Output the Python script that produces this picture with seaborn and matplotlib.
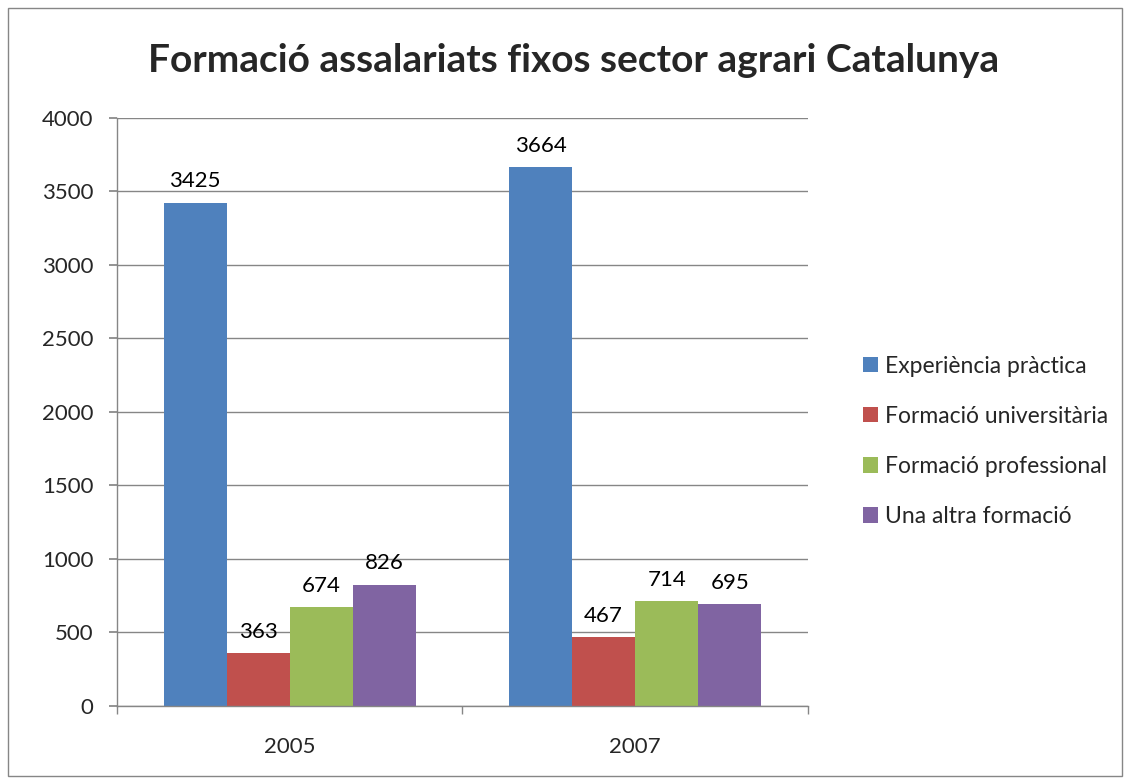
import matplotlib
matplotlib.use("Agg")
import matplotlib.pyplot as plt
import seaborn as sns
import pandas as pd
from matplotlib.patches import Rectangle

years = ["2005", "2007"]
series = ["Experiència pràctica", "Formació universitària", "Formació professional", "Una altra formació"]
exp_practica = [3425, 3664]
form_univ = [363, 467]
form_prof = [674, 714]
altra = [826, 695]
colors = ["#4F81BD", "#C0504D", "#9BBB59", "#8064A2"]
title = "Formació assalariats fixos sector agrari Catalunya"

rows = []
for name, vals in zip(series, [exp_practica, form_univ, form_prof, altra]):
    for y, v in zip(years, vals):
        rows.append({"Any": y, "Sèrie": name, "Valor": v})
df = pd.DataFrame(rows)

sns.set_theme(style="white")
plt.rcParams['font.family'] = ['Lato', 'DejaVu Sans']

fig = plt.figure(figsize=(11.3, 7.84), dpi=100)
ax = fig.add_axes([0.1035, 0.0995, 0.6115, 0.75])

sns.barplot(data=df, x="Any", y="Valor", hue="Sèrie", hue_order=series, order=years,
            palette=colors, width=0.73, saturation=1, ax=ax, legend=True, linewidth=0)

for c in ax.containers:
    ax.bar_label(c, padding=8, fontsize=16, color="black")

ax.set_ylim(0, 4000)
ax.set_yticks(range(0, 4001, 500))
ax.set_xlim(-0.5, 1.5)
ax.yaxis.grid(True, color="#868686", linewidth=1)
ax.set_axisbelow(True)
ax.set_xlabel("")
ax.set_ylabel("")
for s in ["top", "right"]:
    ax.spines[s].set_visible(False)
for s in ["left", "bottom"]:
    ax.spines[s].set_color("#868686")
    ax.spines[s].set_linewidth(1)
ax.tick_params(axis="y", labelsize=16, length=6, color="#868686", direction="out", left=True, pad=11)
ax.tick_params(axis="x", which="major", labelsize=16, length=0, pad=22)
ax.set_xticks([-0.5, 0.5, 1.5], minor=True)
ax.tick_params(axis="x", which="minor", length=6, color="#868686", bottom=True)

leg = ax.legend(loc="center left", bbox_to_anchor=(1.05, 0.45), frameon=False, fontsize=16.5,
                handlelength=0.65, handleheight=0.65, handletextpad=0.3, labelspacing=1.27)

fig.text(0.508, 0.923, title, ha="center", va="center", fontsize=28, fontweight="bold")

fig.patches.append(Rectangle((0.007, 0.01), 0.986, 0.98, transform=fig.transFigure,
                             fill=False, edgecolor="#868686", linewidth=1))

fig.savefig("out.png", dpi=100)
